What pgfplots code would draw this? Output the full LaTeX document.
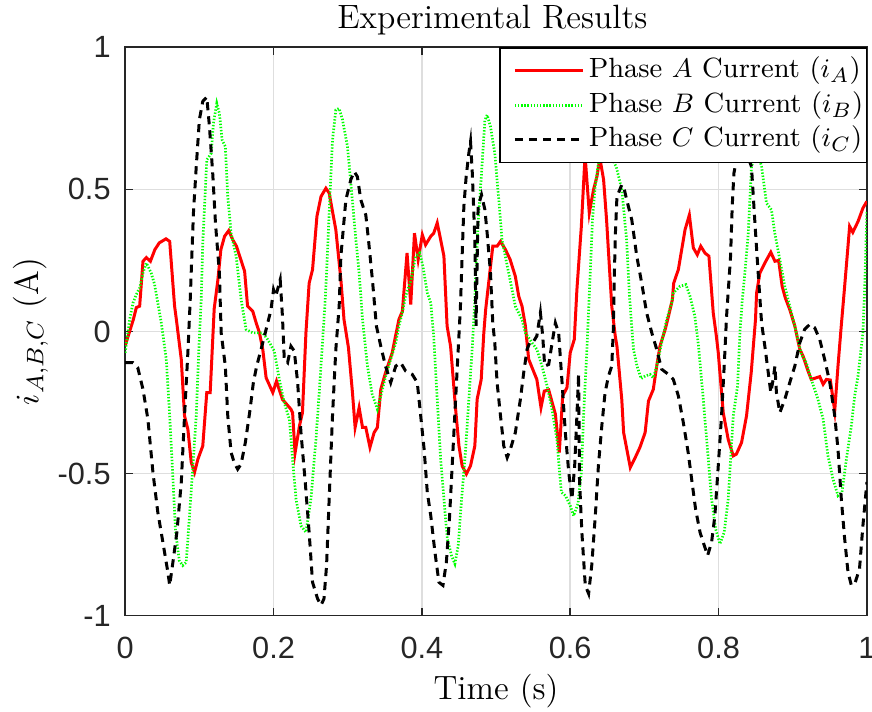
\documentclass[border=0pt]{standalone}
\usepackage{fontspec}
\usepackage{pgfplots}
\pgfplotsset{compat=1.18}
\newfontfamily\tickfont{Liberation Sans}
\definecolor{axgray}{RGB}{38,38,38}
\definecolor{gridgray}{RGB}{222,222,222}
\definecolor{phaseA}{RGB}{255,0,0}
\definecolor{phaseB}{RGB}{0,255,0}

\begin{document}
\begin{tikzpicture}
\begin{axis}[
  name=ax,
  scale only axis,
  width=247.83bp, height=189.83bp,
  xmin=0, xmax=1, ymin=-1, ymax=1,
  xtick={0,0.2,0.4,0.6,0.8,1},
  ytick={-1,-0.5,0,0.5,1},
  tick align=inside,
  major tick length=2.5bp,
  tick style={line width=0.6bp, color=axgray},
  axis line style={line width=0.6bp, color=axgray},
  grid=major,
  major grid style={line width=0.5bp, color=gridgray},
  /pgf/number format/assume math mode=true,
  ticklabel style={font=\tickfont\fontsize{10.3}{12}\selectfont, text=axgray},
  xticklabel style={anchor=base, inner sep=0pt, yshift=-14.33bp},
  yticklabel style={anchor=east, inner sep=0pt, xshift=-4.67bp},
  title={Experimental Results},
  title style={at={(axis description cs:0.495,1.0337)}, anchor=base, yshift=-6pt, inner sep=0pt, font=\fontsize{11.3}{13}\selectfont},
  xlabel={Time (s)},
  xlabel style={at={(axis description cs:0.5,-0.1486)}, anchor=base, inner sep=0pt, font=\fontsize{11.3}{13}\selectfont},
  ylabel={$i_{A,B,C}$ (A)},
  ylabel style={at={(axis description cs:-0.1171,0.5)}, anchor=base, inner sep=0pt, font=\fontsize{11.3}{13}\selectfont},
  legend cell align=left,
  legend style={at={(1,1)}, anchor=north east, draw=black, line width=0.4bp, fill=white,
    font=\fontsize{9.33}{11}\selectfont, inner xsep=0bp, inner ysep=1.9bp,
    row sep=0pt, column sep=0.3bp,
    nodes={inner sep=1bp, text height=7bp, text depth=2.5bp}},
  legend image code/.code={\path (0bp,0bp); \draw[#1] (4.5bp,0bp) -- (27.4bp,0bp);},
]
\addplot[phaseA, line width=1bp] coordinates {
(0,-0.05) (0.011,0.042) (0.015,0.084) (0.0195,0.089) (0.024,0.247) (0.0285,0.26)
(0.034,0.247) (0.040,0.288) (0.046,0.312) (0.055,0.326) (0.060,0.317) (0.0666,0.089)
(0.069,0.042) (0.0756,-0.098) (0.080,-0.297) (0.0845,-0.344) (0.089,-0.46) (0.0935,-0.496)
(0.098,-0.45) (0.1046,-0.403) (0.110,-0.215) (0.1146,-0.215) (0.120,0.08) (0.125,0.182)
(0.129,0.288) (0.134,0.335) (0.1396,0.355) (0.145,0.323) (0.150,0.3) (0.161,0.212)
(0.165,0.089) (0.172,0.071) (0.1765,0.031) (0.181,-0.004) (0.1855,-0.063) (0.19,-0.163)
(0.199,-0.215) (0.204,-0.175) (0.212,-0.239) (0.2235,-0.274) (0.2257,-0.286) (0.229,-0.428)
(0.235,-0.332) (0.239,-0.286) (0.2437,-0.004) (0.248,0.17) (0.2526,0.218) (0.2585,0.405)
(0.264,0.475) (0.2706,0.504) (0.275,0.487) (0.284,0.358) (0.2908,0.182) (0.295,0.042)
(0.301,-0.057) (0.3064,-0.215) (0.31,-0.338) (0.3154,-0.268) (0.32,-0.338) (0.3244,-0.338)
(0.33,-0.408) (0.3356,-0.356) (0.34,-0.338) (0.3446,-0.204) (0.351,-0.145) (0.36,-0.075)
(0.369,0.042) (0.3737,0.071) (0.380,0.276) (0.385,0.095) (0.390,0.346) (0.395,0.253)
(0.4006,0.34) (0.405,0.305) (0.412,0.335) (0.416,0.346) (0.4207,0.382) (0.4253,0.323)
(0.4297,0.265) (0.434,0.019) (0.4387,-0.052) (0.4455,-0.274) (0.45,-0.403) (0.4543,-0.473)
(0.46,-0.502) (0.4656,-0.473) (0.4714,-0.403) (0.4745,-0.239) (0.480,-0.169) (0.4835,-0.005)
(0.486,0.077) (0.490,0.17) (0.4956,0.3) (0.5014,0.3) (0.506,0.317) (0.5127,0.288)
(0.519,0.253) (0.526,0.194) (0.5306,0.124) (0.535,0.089) (0.5396,0.019) (0.544,-0.098)
(0.555,-0.169) (0.5606,-0.268) (0.565,-0.21) (0.571,-0.206) (0.580,-0.291) (0.5853,-0.426)
(0.5898,-0.227) (0.5956,-0.198) (0.600,-0.075) (0.6055,-0.028) (0.609,0.147) (0.615,0.37)
(0.620,0.62) (0.6257,0.417) (0.6315,0.5) (0.636,0.545) (0.640,0.61) (0.645,0.534)
(0.649,0.393) (0.656,0.089) (0.6607,-0.016) (0.663,-0.052) (0.6695,-0.239) (0.672,-0.356)
(0.681,-0.479) (0.6876,-0.444) (0.694,-0.408) (0.701,-0.356) (0.7055,-0.245) (0.712,-0.204)
(0.7166,-0.122) (0.721,-0.052) (0.728,0.007) (0.732,0.048) (0.7377,0.112) (0.7395,0.17)
(0.7458,0.218) (0.7548,0.358) (0.7606,0.41) (0.766,0.294) (0.7713,0.27) (0.776,0.3)
(0.7817,0.276) (0.787,0.265) (0.7928,0.066) (0.797,-0.016) (0.7996,-0.075) (0.8063,-0.286)
(0.813,-0.38) (0.8198,-0.438) (0.824,-0.432) (0.831,-0.391) (0.8377,-0.297) (0.844,-0.145)
(0.8498,0.042) (0.8513,0.136) (0.8557,0.206) (0.8624,0.241) (0.8704,0.279) (0.876,0.247)
(0.881,0.25) (0.8857,0.159) (0.890,0.118) (0.896,0.077) (0.9028,0.019) (0.9095,-0.063)
(0.914,-0.087) (0.9206,-0.139) (0.925,-0.169) (0.932,-0.163) (0.9364,-0.159) (0.941,-0.186)
(0.9453,-0.169) (0.9507,-0.171) (0.9566,-0.28) (0.961,-0.122) (0.9654,0.019) (0.970,0.159)
(0.9767,0.37) (0.981,0.349) (0.988,0.387) (0.9946,0.434) (1.0,0.458)
};
\addlegendentry{Phase $A$ Current ($i_A$)}
\addplot[phaseB, line width=0.9bp, dash pattern=on 0.45bp off 0.6bp] coordinates {
(0,-0.075) (0.006,0.042) (0.0105,0.1) (0.015,0.13) (0.0195,0.153) (0.024,0.206)
(0.0285,0.241) (0.035,0.206) (0.0397,0.165) (0.044,0.1) (0.0487,0.03) (0.0554,-0.098)
(0.06,-0.297) (0.0635,-0.473) (0.068,-0.707) (0.073,-0.807) (0.0777,-0.824) (0.0823,-0.813)
(0.0867,-0.649) (0.091,-0.485) (0.0958,-0.297) (0.0993,-0.063) (0.1025,0.112) (0.1046,0.311)
(0.110,0.604) (0.116,0.627) (0.119,0.733) (0.1235,0.803) (0.127,0.768) (0.1307,0.674)
(0.135,0.651) (0.1383,0.475) (0.1428,0.346) (0.1496,0.265) (0.1563,0.112) (0.163,0.007)
(0.172,-0.005) (0.1855,-0.005) (0.192,-0.028) (0.201,-0.069) (0.2078,-0.169) (0.2145,-0.251)
(0.2213,-0.309) (0.2257,-0.45) (0.2303,-0.59) (0.237,-0.684) (0.2437,-0.707) (0.2504,-0.59)
(0.2572,-0.38) (0.2616,-0.215) (0.266,-0.04) (0.2697,0.112) (0.2715,0.206) (0.275,0.417)
(0.2795,0.674) (0.284,0.78) (0.2885,0.785) (0.293,0.745) (0.2997,0.651) (0.3042,0.522)
(0.311,0.323) (0.3154,0.206) (0.32,0.042) (0.3266,-0.122) (0.333,-0.221) (0.34,-0.274)
(0.3446,-0.227) (0.3513,-0.157) (0.358,-0.098) (0.3648,-0.04) (0.369,0.019) (0.3737,0.066)
(0.378,0.124) (0.385,0.177) (0.3917,0.265) (0.397,0.276) (0.4015,0.229) (0.4073,0.136)
(0.412,0.1) (0.416,-0.02) (0.4207,-0.239) (0.4253,-0.45) (0.4297,-0.59) (0.4343,-0.73)
(0.44,-0.789) (0.4445,-0.818) (0.449,-0.754) (0.4535,-0.59) (0.459,-0.414) (0.4633,-0.239)
(0.4678,-0.063) (0.4714,0.112) (0.4723,0.182) (0.4758,0.382) (0.4804,0.557) (0.485,0.745)
(0.488,0.762) (0.4925,0.721) (0.4983,0.627) (0.5037,0.463) (0.508,0.323) (0.517,0.206)
(0.526,0.089) (0.535,0.042) (0.5396,-0.005) (0.5485,-0.04) (0.555,-0.063) (0.562,-0.122)
(0.5688,-0.192) (0.5754,-0.274) (0.582,-0.38) (0.588,-0.566) (0.5935,-0.578) (0.600,-0.613)
(0.6046,-0.649) (0.6104,-0.607) (0.615,-0.496) (0.618,-0.297) (0.6225,-0.063) (0.627,0.206)
(0.630,0.393) (0.6337,0.51) (0.638,0.592) (0.645,0.66) (0.652,0.66) (0.658,0.6)
(0.662,0.58) (0.6695,0.5) (0.676,0.323) (0.680,0.12) (0.6853,-0.063) (0.69,-0.122)
(0.6956,-0.166) (0.701,-0.157) (0.7077,-0.151) (0.712,-0.163) (0.7166,-0.122) (0.7233,-0.04)
(0.73,0.042) (0.7368,0.1) (0.739,0.136) (0.748,0.159) (0.756,0.165) (0.7615,0.124)
(0.768,0.054) (0.7727,-0.045) (0.7794,-0.239) (0.785,-0.414) (0.7906,-0.59) (0.796,-0.695)
(0.8019,-0.748) (0.8076,-0.707) (0.813,-0.59) (0.8198,-0.297) (0.8256,-0.192) (0.8288,-0.005)
(0.832,0.112) (0.8355,0.206) (0.84,0.346) (0.8444,0.58) (0.849,0.62) (0.854,0.62)
(0.858,0.58) (0.8646,0.452) (0.8713,0.428) (0.8758,0.346) (0.8826,0.253) (0.8893,0.159)
(0.896,0.089) (0.9028,0.019) (0.9116,-0.081) (0.9184,-0.11) (0.925,-0.169) (0.934,-0.239)
(0.941,-0.309) (0.9475,-0.438) (0.9543,-0.52) (0.961,-0.578) (0.9664,-0.566) (0.9723,-0.45)
(0.979,-0.332) (0.9835,-0.227) (0.988,-0.157) (0.9946,-0.005) (0.997,0.15) (1.0,0.42)
};
\addlegendentry{Phase $B$ Current ($i_B$)}
\addplot[black, line width=1bp, dash pattern=on 2.7bp off 2bp] coordinates {
(0,-0.11) (0.0105,-0.11) (0.017,-0.128) (0.024,-0.204) (0.0306,-0.309) (0.0374,-0.496)
(0.044,-0.637) (0.0508,-0.742) (0.0575,-0.847) (0.06,-0.894) (0.0643,-0.813) (0.0697,-0.707)
(0.0756,-0.532) (0.08,-0.297) (0.0845,-0.075) (0.0877,0.112) (0.089,0.206) (0.092,0.417)
(0.0958,0.58) (0.1,0.745) (0.1046,0.81) (0.11,0.825) (0.1136,0.721) (0.118,0.557)
(0.1217,0.382) (0.127,0.206) (0.1294,-0.005) (0.135,-0.122) (0.1383,-0.297) (0.1428,-0.426)
(0.147,-0.462) (0.1517,-0.485) (0.1563,-0.467) (0.162,-0.391) (0.1684,-0.274) (0.1728,-0.18)
(0.1773,-0.122) (0.1832,-0.063) (0.19,0.007) (0.1966,0.077) (0.2,0.147) (0.203,0.124)
(0.209,0.182) (0.212,0.054) (0.2145,-0.098) (0.219,-0.11) (0.2235,-0.052) (0.228,-0.069)
(0.2325,-0.18) (0.237,-0.356) (0.2428,-0.532) (0.248,-0.707) (0.2526,-0.883) (0.2594,-0.941)
(0.264,-0.964) (0.268,-0.941) (0.2715,-0.824) (0.275,-0.59) (0.2795,-0.297) (0.284,-0.063)
(0.2885,0.089) (0.2908,0.265) (0.2975,0.463) (0.3042,0.534) (0.3087,0.563) (0.313,0.545)
(0.3177,0.463) (0.3244,0.41) (0.328,0.323) (0.3333,0.182) (0.3387,0.019) (0.3446,-0.052)
(0.351,-0.122) (0.358,-0.18) (0.3648,-0.122) (0.3715,-0.11) (0.378,-0.139) (0.387,-0.151)
(0.3938,-0.18) (0.3984,-0.297) (0.403,-0.414) (0.4073,-0.566) (0.412,-0.649) (0.4176,-0.777)
(0.423,-0.883) (0.4284,-0.894) (0.433,-0.813) (0.4374,-0.649) (0.442,-0.414) (0.4455,-0.239)
(0.449,-0.063) (0.452,0.089) (0.4535,0.206) (0.4566,0.44) (0.4597,0.545) (0.4633,0.627)
(0.4656,0.668) (0.468,0.557) (0.4714,0.323) (0.473,0.02) (0.4758,0.44) (0.4804,0.481)
(0.485,0.428) (0.488,0.346) (0.4925,0.206) (0.4956,0.03) (0.4983,-0.04) (0.5014,-0.18)
(0.506,-0.297) (0.5104,-0.403) (0.515,-0.444) (0.5194,-0.414) (0.526,-0.356) (0.5328,-0.239)
(0.5373,-0.145) (0.5418,-0.063) (0.5463,-0.034) (0.5508,-0.034) (0.555,-0.016) (0.5598,0.066)
(0.5629,-0.016) (0.5656,-0.122) (0.571,-0.116) (0.5763,-0.028) (0.58,0.03) (0.5844,-0.005)
(0.589,-0.18) (0.5934,-0.356) (0.598,-0.496) (0.6023,-0.59) (0.606,-0.473) (0.609,-0.297)
(0.6113,-0.15) (0.6125,-0.52) (0.6157,-0.707) (0.6203,-0.894) (0.6248,-0.923) (0.629,-0.824)
(0.6338,-0.649) (0.638,-0.473) (0.6426,-0.332) (0.647,-0.215) (0.6516,-0.157) (0.656,-0.122)
(0.658,0.0) (0.6595,0.2) (0.661,0.35) (0.663,0.475) (0.6695,0.516) (0.672,0.51)
(0.6762,0.463) (0.683,0.393) (0.6897,0.265) (0.6964,0.17) (0.703,0.066) (0.71,-0.005)
(0.7166,-0.063) (0.7233,-0.133) (0.7323,-0.151) (0.739,-0.169) (0.7458,-0.227) (0.7525,-0.321)
(0.759,-0.426) (0.7637,-0.52) (0.769,-0.625) (0.775,-0.707) (0.7808,-0.754) (0.7852,-0.789)
(0.7906,-0.742) (0.795,-0.649) (0.7996,-0.473) (0.804,-0.297) (0.8076,-0.122) (0.8108,0.054)
(0.8162,0.265) (0.8184,0.44) (0.8207,0.557) (0.826,0.63) (0.836,0.64) (0.8444,0.58)
(0.849,0.382) (0.8534,0.206) (0.858,0.03) (0.8624,-0.052) (0.867,-0.145) (0.8704,-0.215)
(0.8736,-0.169) (0.876,-0.122) (0.878,-0.215) (0.8826,-0.286) (0.8893,-0.239) (0.896,-0.18)
(0.9028,-0.122) (0.9095,-0.04) (0.916,0.007) (0.923,0.025) (0.9296,0.013) (0.9364,-0.028)
(0.943,-0.098) (0.95,-0.18) (0.9566,-0.297) (0.961,-0.414) (0.9655,-0.59) (0.970,-0.73)
(0.9745,-0.847) (0.979,-0.894) (0.9843,-0.883) (0.990,-0.836) (0.9946,-0.684) (1.0,-0.53)
};
\addlegendentry{Phase $C$ Current ($i_C$)}
\end{axis}
\pgfresetboundingbox
\path[use as bounding box] ([shift={(-41.83bp,-32bp)}]ax.south west) rectangle ([shift={(1.7bp,15.83bp)}]ax.north east);
\end{tikzpicture}
\end{document}
